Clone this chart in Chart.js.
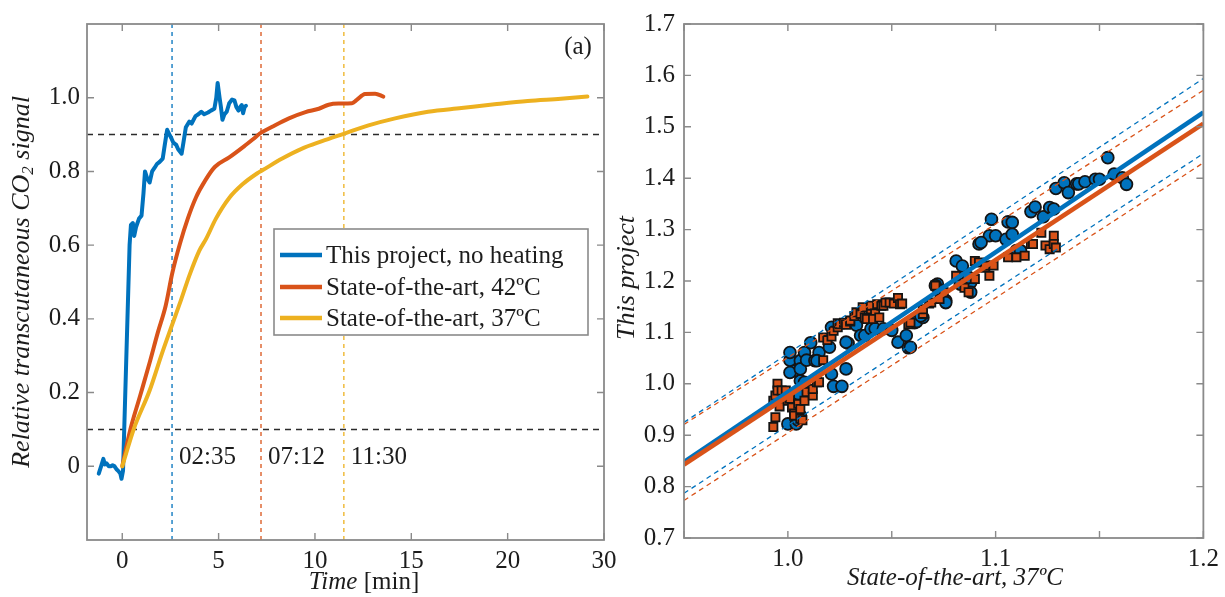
<!DOCTYPE html>
<html><head><meta charset="utf-8">
<script src="https://cdn.jsdelivr.net/npm/chart.js@4/dist/chart.umd.min.js"></script>
<style>
html,body{margin:0;padding:0;background:#fff;}
#wrap{position:relative;width:1225px;height:597px;overflow:hidden;background:#fff;}
#c1{position:absolute;left:0;top:0;}
#c2{position:absolute;left:600px;top:0;}
</style></head><body>
<div id="wrap"><canvas id="c1" width="625" height="597"></canvas><canvas id="c2" width="625" height="597"></canvas></div>
<script>
// ---------- Panel (a) data ----------
const seriesNames = ['This project, no heating', 'State-of-the-art, 42ºC', 'State-of-the-art, 37ºC'];
const blueCurve = [[-1.22,-0.02],[-1.1,0.0],[-0.98,0.02],[-0.9,0.005],[-0.82,0.008],[-0.7,0.0],[-0.6,0.0],[-0.5,0.003],[-0.4,0.0],[-0.3,-0.008],[-0.2,-0.013],[-0.1,-0.02],[-0.04,-0.034],[0.04,-0.012],[0.38,0.6],[0.45,0.655],[0.55,0.66],[0.62,0.625],[0.72,0.65],[0.87,0.672],[1.0,0.68],[1.1,0.74],[1.18,0.8],[1.3,0.78],[1.42,0.77],[1.55,0.8],[1.68,0.81],[1.8,0.82],[1.94,0.826],[2.1,0.835],[2.2,0.87],[2.33,0.913],[2.45,0.9],[2.55,0.89],[2.65,0.878],[2.8,0.872],[2.9,0.86],[3.08,0.848],[3.18,0.88],[3.3,0.92],[3.48,0.935],[3.6,0.93],[3.8,0.95],[3.95,0.955],[4.1,0.962],[4.25,0.955],[4.45,0.96],[4.6,0.965],[4.78,0.97],[4.88,1.0],[4.95,1.04],[5.05,1.0],[5.12,0.975],[5.2,0.94],[5.3,0.955],[5.42,0.962],[5.55,0.985],[5.7,0.995],[5.82,0.993],[5.92,0.975],[6.03,0.965],[6.12,0.975],[6.2,0.98],[6.27,0.958],[6.35,0.975],[6.42,0.978]];
const orangeCurve = [[0,0],[0.41,0.098],[0.92,0.19],[1.43,0.283],[1.84,0.362],[2.25,0.435],[2.6,0.525],[3.0,0.605],[3.4,0.672],[3.83,0.73],[4.3,0.775],[4.8,0.812],[5.55,0.838],[6.32,0.868],[6.8,0.888],[7.15,0.903],[7.78,0.921],[8.65,0.944],[9.51,0.961],[10.2,0.97],[10.71,0.981],[11.23,0.984],[11.92,0.985],[12.17,0.994],[12.6,1.01],[13.12,1.011],[13.55,1.003]];
const yellowCurve = [[0,0],[0.61,0.103],[1.43,0.207],[2.04,0.303],[2.56,0.38],[3.06,0.453],[3.5,0.52],[4.0,0.585],[4.35,0.617],[4.86,0.672],[5.55,0.728],[6.24,0.765],[7.01,0.795],[7.27,0.803],[8.3,0.835],[9.33,0.862],[10.37,0.882],[11.49,0.902],[12.78,0.925],[14.16,0.944],[15.87,0.962],[17.6,0.972],[19.32,0.982],[21.04,0.991],[22.76,0.997],[24.14,1.003]];
const thresholdLevels = [0.1, 0.9];
const riseTimes = [2.583, 7.2, 11.5];
const riseTimeLabels = ['02:35', '07:12', '11:30'];
const timeRange = [-1.83, 25];
const signalRange = [-0.2, 1.2];
const timeTickValues = [0, 5, 10, 15, 20, 25];
const timeTickLabels = ['0', '5', '10', '15', '20', '30'];
const signalTickValues = [0, 0.2, 0.4, 0.6, 0.8, 1.0];
const signalTickLabels = ['0', '0.2', '0.4', '0.6', '0.8', '1.0'];

// ---------- Panel (b) data ----------
const blueCircles = [[1.000,0.922],[1.004,0.922],[1.005,0.929],[1.006,0.938],[1.005,0.958],[1.004,0.967],[1.007,0.974],[1.005,0.980],[1.006,1.006],[1.003,1.025],[1.008,1.003],[1.001,1.022],[1.001,1.046],[1.001,1.061],[1.006,1.045],[1.006,1.029],[1.008,1.061],[1.009,1.046],[1.011,1.080],[1.013,1.045],[1.015,1.061],[1.014,1.045],[1.020,1.071],[1.021,1.019],[1.022,0.995],[1.026,0.995],[1.028,1.029],[1.029,1.079],[1.028,1.081],[1.021,1.110],[1.033,1.114],[1.035,1.094],[1.037,1.094],[1.040,1.107],[1.042,1.107],[1.046,1.107],[1.050,1.104],[1.053,1.081],[1.057,1.094],[1.058,1.070],[1.059,1.071],[1.061,1.119],[1.062,1.121],[1.065,1.129],[1.064,1.132],[1.072,1.194],[1.076,1.162],[1.081,1.239],[1.084,1.229],[1.083,1.194],[1.088,1.197],[1.088,1.178],[1.087,1.207],[1.071,1.191],[1.074,1.181],[1.076,1.158],[1.092,1.272],[1.097,1.288],[1.093,1.275],[1.098,1.320],[1.106,1.315],[1.108,1.314],[1.100,1.288],[1.105,1.281],[1.108,1.291],[1.110,1.259],[1.112,1.259],[1.117,1.335],[1.119,1.344],[1.123,1.325],[1.126,1.343],[1.128,1.340],[1.129,1.380],[1.133,1.391],[1.135,1.372],[1.139,1.389],[1.140,1.389],[1.143,1.393],[1.148,1.398],[1.150,1.398],[1.154,1.440],[1.157,1.408],[1.161,1.401],[1.163,1.388]];
const orangeSquares = [[0.993,0.967],[0.993,0.916],[0.994,0.935],[0.994,0.977],[0.995,1.000],[0.995,0.987],[0.996,0.956],[0.997,0.987],[0.999,0.987],[1.000,0.967],[1.001,0.971],[1.002,0.954],[1.003,0.942],[1.003,0.938],[1.005,0.961],[1.006,0.951],[1.006,0.932],[1.007,0.929],[1.008,0.967],[1.009,0.984],[1.012,0.977],[1.012,0.990],[1.014,1.003],[1.015,1.003],[1.017,1.046],[1.017,1.090],[1.019,1.085],[1.021,1.092],[1.022,1.103],[1.024,1.110],[1.024,1.118],[1.025,1.116],[1.027,1.119],[1.028,1.115],[1.030,1.121],[1.030,1.123],[1.032,1.132],[1.033,1.139],[1.035,1.136],[1.036,1.149],[1.037,1.129],[1.038,1.126],[1.040,1.145],[1.040,1.152],[1.042,1.137],[1.041,1.126],[1.043,1.155],[1.044,1.129],[1.045,1.152],[1.046,1.152],[1.047,1.158],[1.049,1.158],[1.051,1.156],[1.053,1.167],[1.054,1.155],[1.055,1.156],[1.058,1.116],[1.059,1.119],[1.065,1.136],[1.065,1.145],[1.068,1.156],[1.069,1.158],[1.073,1.165],[1.075,1.178],[1.071,1.191],[1.081,1.210],[1.085,1.187],[1.087,1.178],[1.090,1.204],[1.090,1.239],[1.092,1.236],[1.095,1.226],[1.095,1.230],[1.097,1.210],[1.099,1.230],[1.106,1.246],[1.110,1.246],[1.114,1.249],[1.117,1.272],[1.118,1.272],[1.122,1.294],[1.124,1.269],[1.126,1.262],[1.128,1.288],[1.128,1.272],[1.129,1.265]];
const fitX = [0.95, 1.2];
const blueFitY = [0.848, 1.528];
const blueUpperY = [0.925, 1.594];
const blueLowerY = [0.787, 1.448];
const orangeFitY = [0.843, 1.506];
const orangeUpperY = [0.921, 1.571];
const orangeLowerY = [0.773, 1.430];
const refRange = [0.95, 1.2];
const projRange = [0.7, 1.7];
const refTickValues = [0.95, 1.0, 1.05, 1.1, 1.15, 1.2];
const refTickLabels = ['', '1.0', '', '1.1', '', '1.2'];
const projTickValues = [0.7, 0.8, 0.9, 1.0, 1.1, 1.2, 1.3, 1.4, 1.5, 1.6, 1.7];
const projTickLabels = ['0.7', '0.8', '0.9', '1.0', '1.1', '1.2', '1.3', '1.4', '1.5', '1.6', '1.7'];

// ---------- helpers ----------
const SERIF = '"Liberation Serif", "Times New Roman", "DejaVu Serif", serif';
const C_BLUE = '#0072BD', C_ORANGE = '#D95319', C_YELLOW = '#EDB120';
const TXT = '#1c1c1c', FRAME = '#8a8a8a';
Chart.defaults.font.family = SERIF;
Chart.defaults.color = TXT;

const toXY = pairs => pairs.map(p => ({x: p[0], y: p[1]}));
const segXY = (xs, ys) => xs.map((x, i) => ({x: x, y: ys[i]}));
const pickLabel = (vals, labels) => v => {
  const i = vals.findIndex(t => Math.abs(t - v) < 1e-9);
  return i < 0 ? '' : labels[i];
};

function drawRich(ctx, parts, x, y, angle) {
  ctx.save();
  ctx.translate(x, y);
  ctx.rotate(angle || 0);
  let total = 0;
  parts.forEach(p => { ctx.font = p.font; p.w = ctx.measureText(p.text).width; total += p.w; });
  let cx = -total / 2;
  ctx.textBaseline = 'middle';
  ctx.textAlign = 'left';
  ctx.fillStyle = TXT;
  parts.forEach(p => { ctx.font = p.font; ctx.fillText(p.text, cx, p.dy || 0); cx += p.w; });
  ctx.restore();
}

function framePlugin(xVals, yVals) {
  return {
    id: 'frameTicks',
    afterDatasetsDraw(chart) {
      const {ctx, chartArea: a} = chart;
      const xs = chart.scales.x, ys = chart.scales.y;
      const L = 7;
      ctx.save();
      ctx.strokeStyle = FRAME;
      ctx.lineWidth = 1.4;
      ctx.beginPath();
      xVals.forEach(v => {
        const px = xs.getPixelForValue(v);
        ctx.moveTo(px, a.bottom); ctx.lineTo(px, a.bottom - L);
        ctx.moveTo(px, a.top); ctx.lineTo(px, a.top + L);
      });
      yVals.forEach(v => {
        const py = ys.getPixelForValue(v);
        ctx.moveTo(a.left, py); ctx.lineTo(a.left + L, py);
        ctx.moveTo(a.right, py); ctx.lineTo(a.right - L, py);
      });
      ctx.stroke();
      ctx.lineWidth = 1.8;
      ctx.strokeRect(a.left, a.top, a.right - a.left, a.bottom - a.top);
      ctx.restore();
    }
  };
}

const tickFont = {family: SERIF, size: 25};

function axis(range, vals, labels, isX, width, height, pad) {
  return {
    type: 'linear',
    min: range[0], max: range[1],
    grid: {display: false, drawTicks: false},
    border: {display: false},
    afterBuildTicks: s => { s.ticks = vals.map(v => ({value: v})); },
    afterFit: s => { if (isX) s.height = height; else s.width = width; },
    ticks: {
      autoSkip: false, maxRotation: 0, minRotation: 0,
      padding: pad, font: tickFont, color: TXT,
      callback: pickLabel(vals, labels)
    }
  };
}

// ---------- Chart (a) ----------
const lineDs = (label, pairs, color, order, smooth) => ({
  label: label, data: toXY(pairs), showLine: true, borderColor: color, backgroundColor: color,
  borderWidth: 4, pointRadius: 0, tension: smooth ? 0.4 : 0,
  cubicInterpolationMode: smooth ? 'monotone' : 'default',
  borderJoinStyle: 'round', borderCapStyle: 'round', order: order
});
const dsA = [
  lineDs(seriesNames[0], blueCurve, C_BLUE, 3, false),
  lineDs(seriesNames[1], orangeCurve, C_ORANGE, 2, true),
  lineDs(seriesNames[2], yellowCurve, C_YELLOW, 1, true)
];
thresholdLevels.forEach(v => dsA.push({
  label: 'threshold', data: segXY(timeRange, [v, v]), showLine: true, borderColor: '#2b2b2b',
  borderWidth: 1.5, borderDash: [6, 5], pointRadius: 0, order: 10
}));
const riseColors = [C_BLUE, C_ORANGE, C_YELLOW];
riseTimes.forEach((t, i) => dsA.push({
  label: 'rise', data: segXY([t, t], signalRange), showLine: true, borderColor: riseColors[i],
  borderWidth: 1.3, borderDash: [4, 4], pointRadius: 0, order: 11
}));

const annotA = {
  id: 'annotA',
  afterDraw(chart) {
    const ctx = chart.ctx, xs = chart.scales.x, ys = chart.scales.y, a = chart.chartArea;
    ctx.save();
    ctx.fillStyle = TXT;
    ctx.font = '25px ' + SERIF;
    ctx.textBaseline = 'middle';
    ctx.textAlign = 'left';
    riseTimes.forEach((t, i) => ctx.fillText(riseTimeLabels[i], xs.getPixelForValue(t) + 7, ys.getPixelForValue(0.025)));
    ctx.textAlign = 'center';
    ctx.fillText('(a)', a.right - 26, a.top + 23);
    // legend
    const bx = 274, by = 229, bw = 314, bh = 106;
    ctx.fillStyle = '#fff';
    ctx.fillRect(bx, by, bw, bh);
    ctx.strokeStyle = FRAME; ctx.lineWidth = 1.6;
    ctx.strokeRect(bx, by, bw, bh);
    const rows = [255, 287, 318];
    chart.data.datasets.slice(0, 3).forEach((d, i) => {
      ctx.strokeStyle = d.borderColor; ctx.lineWidth = 4.5;
      ctx.beginPath(); ctx.moveTo(280, rows[i]); ctx.lineTo(322, rows[i]); ctx.stroke();
      ctx.fillStyle = TXT; ctx.textAlign = 'left'; ctx.font = '25px ' + SERIF;
      ctx.fillText(d.label, 326, rows[i] + 1);
    });
    ctx.restore();
    drawRich(ctx, [
      {text: 'Relative transcutaneous CO', font: 'italic 26px ' + SERIF},
      {text: '2', font: 'italic 17px ' + SERIF, dy: 7},
      {text: ' signal', font: 'italic 26px ' + SERIF}
    ], 22, 282, -Math.PI / 2);
    drawRich(ctx, [
      {text: 'Time', font: 'italic 25px ' + SERIF},
      {text: ' [min]', font: '25px ' + SERIF}
    ], 364, 582, 0);
  }
};

new Chart(document.getElementById('c1'), {
  type: 'scatter',
  data: {datasets: dsA},
  options: {
    responsive: false, animation: false, devicePixelRatio: 1, events: [],
    layout: {padding: {left: 0, top: 24, right: 21, bottom: 0}},
    plugins: {legend: {display: false}, tooltip: {enabled: false}, title: {display: false}},
    scales: {
      x: axis(timeRange, timeTickValues, timeTickLabels, true, 0, 57, 6),
      y: axis(signalRange, signalTickValues, signalTickLabels, false, 87, 0, 7)
    }
  },
  plugins: [framePlugin(timeTickValues, signalTickValues), annotA]
});

// ---------- Chart (b) ----------
const dsB = [
  {label: 'orange fit', data: segXY(fitX, orangeFitY), showLine: true, borderColor: C_ORANGE, borderWidth: 4.5, pointRadius: 0, order: 0},
  {label: 'blue fit', data: segXY(fitX, blueFitY), showLine: true, borderColor: C_BLUE, borderWidth: 4.5, pointRadius: 0, order: 1},
  {label: 'blue upper', data: segXY(fitX, blueUpperY), showLine: true, borderColor: C_BLUE, borderWidth: 1.3, borderDash: [5, 4], pointRadius: 0, order: 2},
  {label: 'blue lower', data: segXY(fitX, blueLowerY), showLine: true, borderColor: C_BLUE, borderWidth: 1.3, borderDash: [5, 4], pointRadius: 0, order: 2},
  {label: 'orange upper', data: segXY(fitX, orangeUpperY), showLine: true, borderColor: C_ORANGE, borderWidth: 1.3, borderDash: [5, 4], pointRadius: 0, order: 2},
  {label: 'orange lower', data: segXY(fitX, orangeLowerY), showLine: true, borderColor: C_ORANGE, borderWidth: 1.3, borderDash: [5, 4], pointRadius: 0, order: 2},
  {label: 'squares', data: toXY(orangeSquares), showLine: false, pointStyle: 'rect', pointRadius: 5.8,
   backgroundColor: C_ORANGE, borderColor: '#141414', borderWidth: 1.8, order: 3},
  {label: 'circles', data: toXY(blueCircles), showLine: false, pointStyle: 'circle', pointRadius: 5.9,
   backgroundColor: C_BLUE, borderColor: '#141414', borderWidth: 1.8, order: 4}
];

const annotB = {
  id: 'annotB',
  afterDraw(chart) {
    const ctx = chart.ctx;
    drawRich(ctx, [{text: 'State-of-the-art, 37ºC', font: 'italic 25px ' + SERIF}], 355, 578, 0);
    drawRich(ctx, [{text: 'This project', font: 'italic 26px ' + SERIF}], 27, 278, -Math.PI / 2);
  }
};

new Chart(document.getElementById('c2'), {
  type: 'scatter',
  data: {datasets: dsB},
  options: {
    responsive: false, animation: false, devicePixelRatio: 1, events: [],
    layout: {padding: {left: 0, top: 23, right: 21, bottom: 0}},
    plugins: {legend: {display: false}, tooltip: {enabled: false}, title: {display: false}},
    scales: {
      x: axis(refRange, refTickValues, refTickLabels, true, 0, 59, 6),
      y: axis(projRange, projTickValues, projTickLabels, false, 84, 0, 9)
    }
  },
  plugins: [framePlugin(refTickValues, projTickValues), annotB]
});
</script>
</body></html>
